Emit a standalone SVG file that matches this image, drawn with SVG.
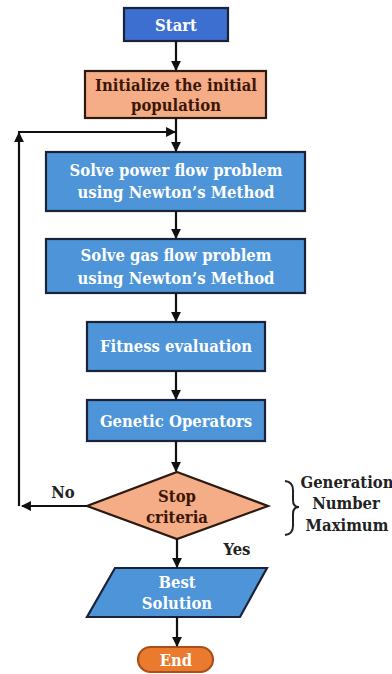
<svg xmlns="http://www.w3.org/2000/svg" width="392" height="674" viewBox="0 0 392 674" font-family="DejaVu Serif Condensed, DejaVu Serif, serif" font-stretch="condensed" font-weight="bold" font-size="16.5" text-anchor="middle">
<style>
.box{fill:#4D94D9;stroke:#1b2236;stroke-width:2.2}
.start{fill:#3D6FD0;stroke:#1b2236;stroke-width:2.2}
.sal{fill:#F4AD86;stroke:#2a1a12;stroke-width:2.2}
.endf{fill:#EA7A2E;stroke:#A9501A;stroke-width:2.2}
.w{fill:#ffffff}
.d{fill:#3a1608}
.k{fill:#222222}
.c{fill:none;stroke:#111;stroke-width:2.2}
</style>
<defs>
<marker id="ah" viewBox="0 0 10 10" refX="9" refY="5" markerWidth="4.5" markerHeight="4.5" orient="auto" markerUnits="strokeWidth">
<path d="M0,0 L10,5 L0,10 z" fill="#111"/>
</marker>
</defs>
<g id="start"><rect class="start" x="124" y="8" width="104" height="33"/><text class="w" x="176" y="31">Start</text></g>
<g id="init"><rect class="sal" x="85" y="71" width="181" height="47"/><text class="d" x="176" y="91">Initialize  the initial</text><text class="d" x="176" y="111">population</text></g>
<g id="power"><rect class="box" x="46" y="152" width="259" height="59"/><text class="w" x="176" y="176">Solve power flow problem</text><text class="w" x="176" y="198">using Newton’s Method</text></g>
<g id="gas"><rect class="box" x="46" y="239" width="259" height="54"/><text class="w" x="176" y="261">Solve gas flow problem</text><text class="w" x="176" y="284">using Newton’s Method</text></g>
<g id="fitness"><rect class="box" x="87" y="322" width="178" height="49"/><text class="w" x="176" y="352">Fitness evaluation</text></g>
<g id="genetic"><rect class="box" x="87" y="400" width="178" height="41"/><text class="w" x="176" y="427">Genetic Operators</text></g>
<g id="stop"><polygon class="sal" points="177,472 268,506 177,539 87,506"/><text class="d" x="177" y="502">Stop</text><text class="d" x="177" y="523">criteria</text></g>
<g id="best"><polygon class="box" points="115,568 267,568 240,617 87,617"/><text class="w" x="177" y="588">Best</text><text class="w" x="177" y="609">Solution</text></g>
<g id="end"><rect class="endf" x="138" y="647" width="75" height="25" rx="12.5"/><text class="w" x="176" y="666">End</text></g>
<g id="criteria-note">
<path d="M285,481 Q293,482 293,490 L293,500 Q293,507 299,507 Q293,507 293,514 L293,526 Q293,534 285,535" fill="none" stroke="#222" stroke-width="2"/>
<text class="k" x="347" y="488">Generation</text>
<text class="k" x="346" y="509">Number</text>
<text class="k" x="347" y="531">Maximum</text>
</g>
<g id="connectors">
<line class="c" x1="176" y1="41" x2="176" y2="70" marker-end="url(#ah)"/>
<line class="c" x1="176" y1="118" x2="176" y2="151" marker-end="url(#ah)"/>
<line class="c" x1="176" y1="211" x2="176" y2="238" marker-end="url(#ah)"/>
<line class="c" x1="176" y1="293" x2="176" y2="321" marker-end="url(#ah)"/>
<line class="c" x1="176" y1="371" x2="176" y2="399" marker-end="url(#ah)"/>
<line class="c" x1="176" y1="441" x2="176" y2="471" marker-end="url(#ah)"/>
<line class="c" x1="177" y1="539" x2="177" y2="567" marker-end="url(#ah)"/>
<line class="c" x1="177" y1="617" x2="177" y2="646" marker-end="url(#ah)"/>
<line class="c" x1="87" y1="506" x2="22" y2="506" marker-end="url(#ah)"/>
<line class="c" x1="19" y1="506" x2="19" y2="133" marker-end="url(#ah)"/>
<line class="c" x1="18" y1="132" x2="175" y2="132" marker-end="url(#ah)"/>
<text class="k" x="63" y="498">No</text>
<text class="k" x="237" y="555">Yes</text>
</g>
</svg>
